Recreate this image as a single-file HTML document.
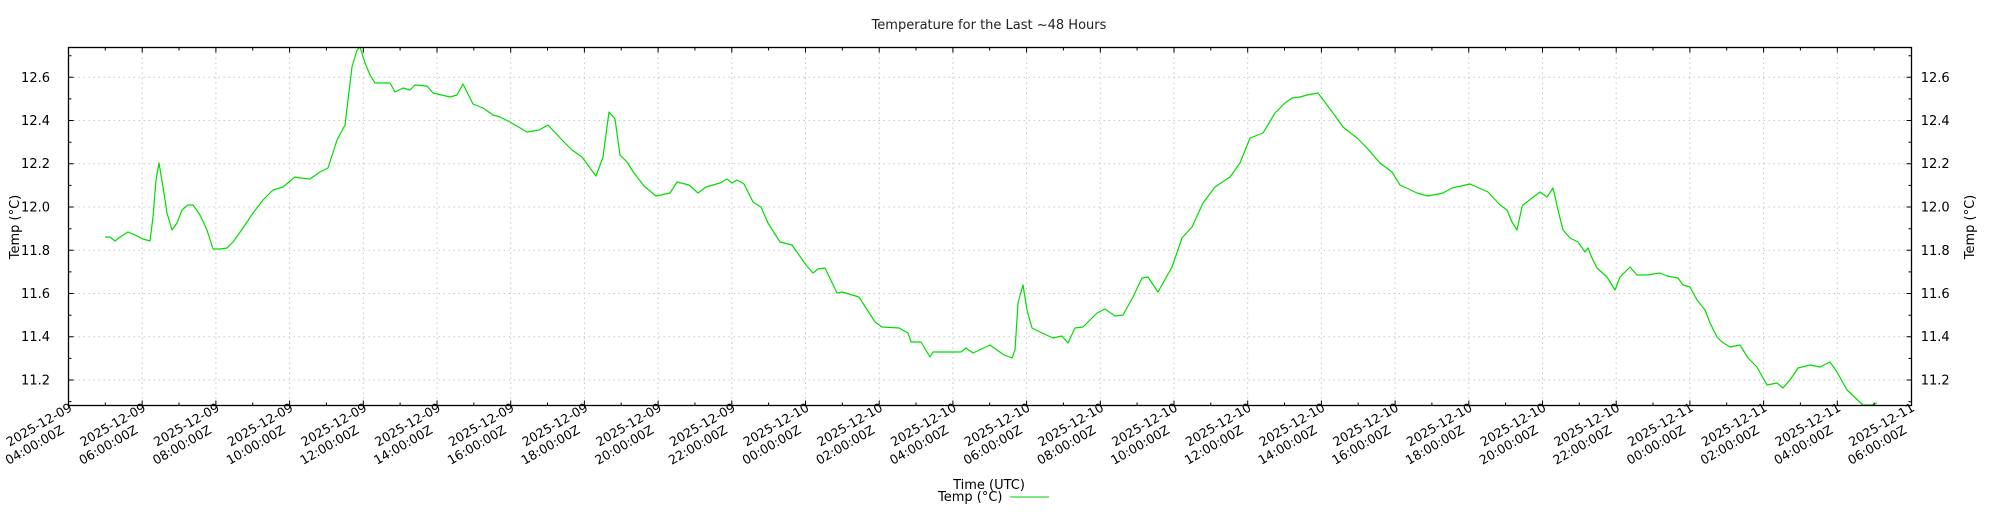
<!DOCTYPE html>
<html><head><meta charset="utf-8"><style>
html,body{margin:0;padding:0;background:#fff;}
svg{display:block;font-family:"DejaVu Sans","Liberation Sans",sans-serif;}
</style></head><body>
<svg width="2000" height="512" viewBox="0 0 2000 512" xmlns="http://www.w3.org/2000/svg">
<rect width="2000" height="512" fill="#fff"/>
<text x="989" y="29" font-size="13" text-anchor="middle" fill="#222">Temperature for the Last ~48 Hours</text>
<g id="grid" stroke="#c8c8c8" stroke-width="1" stroke-dasharray="1.5,3.5" fill="none">
<path d="M142.2,47.5V405.5M215.9,47.5V405.5M289.6,47.5V405.5M363.3,47.5V405.5M437,47.5V405.5M510.7,47.5V405.5M584.4,47.5V405.5M658.1,47.5V405.5M731.8,47.5V405.5M805.5,47.5V405.5M879.2,47.5V405.5M952.9,47.5V405.5M1026.6,47.5V405.5M1100.3,47.5V405.5M1174,47.5V405.5M1247.7,47.5V405.5M1321.4,47.5V405.5M1395.1,47.5V405.5M1468.8,47.5V405.5M1542.5,47.5V405.5M1616.2,47.5V405.5M1689.9,47.5V405.5M1763.6,47.5V405.5M1837.3,47.5V405.5"/>
<path d="M68.5,77.3H1911.5M68.5,120.5H1911.5M68.5,163.8H1911.5M68.5,207H1911.5M68.5,250.3H1911.5M68.5,293.5H1911.5M68.5,336.8H1911.5M68.5,380H1911.5"/>
</g>
<polyline fill="none" stroke="#00dd00" stroke-width="1.2" stroke-linejoin="round" points="105,237 110,237 115,241 120,237 128,232 135,235 143,239 150,241 153,217 156,180 159,163 163,187 167,213 172,230 177,223 182,210 188,205 193,205 200,215 207,230 213,249 220,249 227,248 233,242 243,228 253,213 263,200 273,190 283,187 295,177 300,178 310,179 320,172 328,168 337,140 345,125 352,67 357,50 360,47 365,63 370,75 375,83 390,83 395,92 403,88 410,90 415,85 427,86 433,93 450,97 457,95 463,84 467,92 473,104 483,108 493,115 500,117 510,122 527,132 539,130 548,125 562,140 572,150 582,157 596,176 603,157 609,112 615,119 620,155 627,162 634,173 644,186 656,196 670,193 677,182 689,185 698,193 706,187 720,183 727,179 732,183 737,180 744,184 753,202 761,207 768,223 780,242 792,245 806,265 813,273 818,269 825,268 837,293 842,292 859,297 875,322 882,327 899,328 908,333 911,342 921,342 930,357 933,352 961,352 966,348 973,353 990,345 1004,355 1012,358 1015,350 1018,303 1023,285 1027,310 1032,328 1040,332 1053,338 1062,336 1068,343 1075,328 1083,327 1097,313 1105,309 1115,316 1123,315 1133,297 1142,278 1148,277 1158,292 1172,267 1182,238 1192,227 1203,203 1215,187 1230,177 1240,163 1250,138 1263,133 1275,113 1285,103 1292,98 1300,97 1307,95 1318,93 1333,113 1343,127 1357,138 1367,148 1380,163 1392,172 1400,185 1417,193 1428,196 1443,193 1452,188 1470,184 1488,192 1500,205 1507,210 1512,222 1517,230 1522,207 1523,205 1532,198 1540,192 1547,197 1553,188 1558,210 1563,230 1570,238 1578,242 1585,252 1588,248 1592,258 1597,268 1607,277 1615,290 1620,277 1630,267 1637,275 1647,275 1660,273 1667,276 1678,278 1683,285 1690,287 1697,300 1705,310 1710,323 1717,337 1722,342 1730,347 1740,345 1748,358 1757,367 1767,385 1777,383 1783,388 1790,380 1798,368 1810,365 1820,367 1830,362 1837,372 1847,390 1863,405 1872,405 1877,403"/>
<rect x="68.5" y="47.5" width="1843" height="358" fill="none" stroke="#000" stroke-width="1.3"/>
<g stroke="#000" stroke-width="1">
<path d="M142.2,405.5v-5M215.9,405.5v-5M289.6,405.5v-5M363.3,405.5v-5M437,405.5v-5M510.7,405.5v-5M584.4,405.5v-5M658.1,405.5v-5M731.8,405.5v-5M805.5,405.5v-5M879.2,405.5v-5M952.9,405.5v-5M1026.6,405.5v-5M1100.3,405.5v-5M1174,405.5v-5M1247.7,405.5v-5M1321.4,405.5v-5M1395.1,405.5v-5M1468.8,405.5v-5M1542.5,405.5v-5M1616.2,405.5v-5M1689.9,405.5v-5M1763.6,405.5v-5M1837.3,405.5v-5"/>
<path d="M142.2,47.5v5M215.9,47.5v5M289.6,47.5v5M363.3,47.5v5M437,47.5v5M510.7,47.5v5M584.4,47.5v5M658.1,47.5v5M731.8,47.5v5M805.5,47.5v5M879.2,47.5v5M952.9,47.5v5M1026.6,47.5v5M1100.3,47.5v5M1174,47.5v5M1247.7,47.5v5M1321.4,47.5v5M1395.1,47.5v5M1468.8,47.5v5M1542.5,47.5v5M1616.2,47.5v5M1689.9,47.5v5M1763.6,47.5v5M1837.3,47.5v5"/>
<path d="M105.3,405.5v-3M179,405.5v-3M252.7,405.5v-3M326.4,405.5v-3M400.1,405.5v-3M473.8,405.5v-3M547.5,405.5v-3M621.2,405.5v-3M694.9,405.5v-3M768.6,405.5v-3M842.3,405.5v-3M916,405.5v-3M989.7,405.5v-3M1063.4,405.5v-3M1137.1,405.5v-3M1210.8,405.5v-3M1284.5,405.5v-3M1358.2,405.5v-3M1431.9,405.5v-3M1505.6,405.5v-3M1579.3,405.5v-3M1653,405.5v-3M1726.7,405.5v-3M1800.4,405.5v-3M1874.1,405.5v-3"/>
<path d="M105.3,47.5v3M179,47.5v3M252.7,47.5v3M326.4,47.5v3M400.1,47.5v3M473.8,47.5v3M547.5,47.5v3M621.2,47.5v3M694.9,47.5v3M768.6,47.5v3M842.3,47.5v3M916,47.5v3M989.7,47.5v3M1063.4,47.5v3M1137.1,47.5v3M1210.8,47.5v3M1284.5,47.5v3M1358.2,47.5v3M1431.9,47.5v3M1505.6,47.5v3M1579.3,47.5v3M1653,47.5v3M1726.7,47.5v3M1800.4,47.5v3M1874.1,47.5v3"/>
<path d="M68.5,77.3h5M68.5,120.5h5M68.5,163.8h5M68.5,207h5M68.5,250.3h5M68.5,293.5h5M68.5,336.8h5M68.5,380h5"/>
<path d="M1911.5,77.3h-5M1911.5,120.5h-5M1911.5,163.8h-5M1911.5,207h-5M1911.5,250.3h-5M1911.5,293.5h-5M1911.5,336.8h-5M1911.5,380h-5"/>
<path d="M68.5,55.7h3M68.5,98.9h3M68.5,142.2h3M68.5,185.4h3M68.5,228.7h3M68.5,271.9h3M68.5,315.2h3M68.5,358.4h3M68.5,401.6h3"/>
<path d="M1911.5,55.7h-3M1911.5,98.9h-3M1911.5,142.2h-3M1911.5,185.4h-3M1911.5,228.7h-3M1911.5,271.9h-3M1911.5,315.2h-3M1911.5,358.4h-3M1911.5,401.6h-3"/>
</g>
<g font-size="13" fill="#000" text-anchor="end">
<text x="50" y="82">12.6</text><text x="50" y="125">12.4</text><text x="50" y="168">12.2</text><text x="50" y="211.5">12.0</text><text x="50" y="255">11.8</text><text x="50" y="298">11.6</text><text x="50" y="341">11.4</text><text x="50" y="384.5">11.2</text>
</g>
<g font-size="13" fill="#000" text-anchor="start">
<text x="1920.7" y="82">12.6</text><text x="1920.7" y="125">12.4</text><text x="1920.7" y="168">12.2</text><text x="1920.7" y="211.5">12.0</text><text x="1920.7" y="255">11.8</text><text x="1920.7" y="298">11.6</text><text x="1920.7" y="341">11.4</text><text x="1920.7" y="384.5">11.2</text>
</g>
<text transform="translate(19,227) rotate(-90)" font-size="13" text-anchor="middle">Temp (°C)</text>
<text transform="translate(1974,227) rotate(-90)" font-size="13" text-anchor="middle">Temp (°C)</text>
<g font-size="12.6" fill="#000">
<text transform="translate(9.5,446.7) rotate(-30)">2025-12-09</text><text transform="translate(8.5,465) rotate(-30)">04:00:00Z</text>
<text transform="translate(83.2,446.7) rotate(-30)">2025-12-09</text><text transform="translate(82.2,465) rotate(-30)">06:00:00Z</text>
<text transform="translate(156.9,446.7) rotate(-30)">2025-12-09</text><text transform="translate(155.9,465) rotate(-30)">08:00:00Z</text>
<text transform="translate(230.6,446.7) rotate(-30)">2025-12-09</text><text transform="translate(229.6,465) rotate(-30)">10:00:00Z</text>
<text transform="translate(304.3,446.7) rotate(-30)">2025-12-09</text><text transform="translate(303.3,465) rotate(-30)">12:00:00Z</text>
<text transform="translate(378,446.7) rotate(-30)">2025-12-09</text><text transform="translate(377,465) rotate(-30)">14:00:00Z</text>
<text transform="translate(451.7,446.7) rotate(-30)">2025-12-09</text><text transform="translate(450.7,465) rotate(-30)">16:00:00Z</text>
<text transform="translate(525.4,446.7) rotate(-30)">2025-12-09</text><text transform="translate(524.4,465) rotate(-30)">18:00:00Z</text>
<text transform="translate(599.1,446.7) rotate(-30)">2025-12-09</text><text transform="translate(598.1,465) rotate(-30)">20:00:00Z</text>
<text transform="translate(672.8,446.7) rotate(-30)">2025-12-09</text><text transform="translate(671.8,465) rotate(-30)">22:00:00Z</text>
<text transform="translate(746.5,446.7) rotate(-30)">2025-12-10</text><text transform="translate(745.5,465) rotate(-30)">00:00:00Z</text>
<text transform="translate(820.2,446.7) rotate(-30)">2025-12-10</text><text transform="translate(819.2,465) rotate(-30)">02:00:00Z</text>
<text transform="translate(893.9,446.7) rotate(-30)">2025-12-10</text><text transform="translate(892.9,465) rotate(-30)">04:00:00Z</text>
<text transform="translate(967.6,446.7) rotate(-30)">2025-12-10</text><text transform="translate(966.6,465) rotate(-30)">06:00:00Z</text>
<text transform="translate(1041.3,446.7) rotate(-30)">2025-12-10</text><text transform="translate(1040.3,465) rotate(-30)">08:00:00Z</text>
<text transform="translate(1115,446.7) rotate(-30)">2025-12-10</text><text transform="translate(1114,465) rotate(-30)">10:00:00Z</text>
<text transform="translate(1188.7,446.7) rotate(-30)">2025-12-10</text><text transform="translate(1187.7,465) rotate(-30)">12:00:00Z</text>
<text transform="translate(1262.4,446.7) rotate(-30)">2025-12-10</text><text transform="translate(1261.4,465) rotate(-30)">14:00:00Z</text>
<text transform="translate(1336.1,446.7) rotate(-30)">2025-12-10</text><text transform="translate(1335.1,465) rotate(-30)">16:00:00Z</text>
<text transform="translate(1409.8,446.7) rotate(-30)">2025-12-10</text><text transform="translate(1408.8,465) rotate(-30)">18:00:00Z</text>
<text transform="translate(1483.5,446.7) rotate(-30)">2025-12-10</text><text transform="translate(1482.5,465) rotate(-30)">20:00:00Z</text>
<text transform="translate(1557.2,446.7) rotate(-30)">2025-12-10</text><text transform="translate(1556.2,465) rotate(-30)">22:00:00Z</text>
<text transform="translate(1630.9,446.7) rotate(-30)">2025-12-11</text><text transform="translate(1629.9,465) rotate(-30)">00:00:00Z</text>
<text transform="translate(1704.6,446.7) rotate(-30)">2025-12-11</text><text transform="translate(1703.6,465) rotate(-30)">02:00:00Z</text>
<text transform="translate(1778.3,446.7) rotate(-30)">2025-12-11</text><text transform="translate(1777.3,465) rotate(-30)">04:00:00Z</text>
<text transform="translate(1852,446.7) rotate(-30)">2025-12-11</text><text transform="translate(1851,465) rotate(-30)">06:00:00Z</text>
</g>
<text x="989" y="489" font-size="13" text-anchor="middle">Time (UTC)</text>
<text x="938" y="501" font-size="13">Temp (°C)</text>
<line x1="1010" y1="497" x2="1049" y2="497" stroke="#00cc00" stroke-width="1"/>
</svg>
</body></html>
